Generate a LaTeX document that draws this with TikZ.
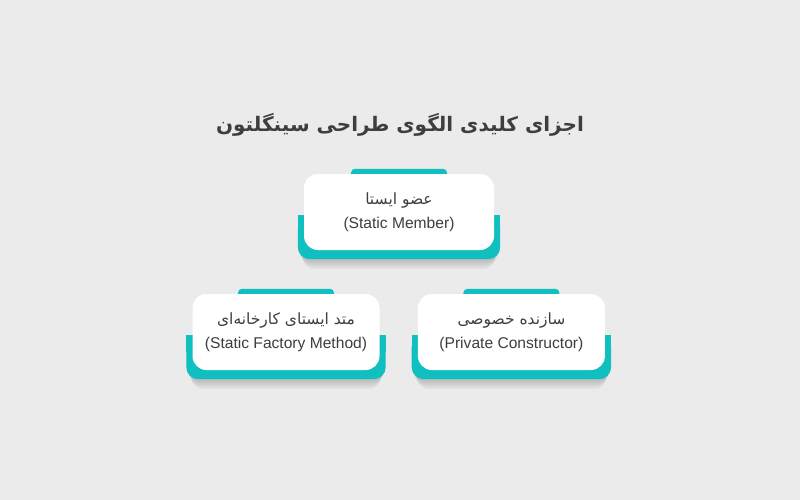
\documentclass[tikz,border=0pt]{standalone}
\usepackage{fontspec}
\setmainfont{Liberation Sans}
\newfontfamily\farsifont[Script=Arabic]{DejaVu Sans}
\TeXXeTstate=1
\usetikzlibrary{positioning, backgrounds, calc}
\definecolor{pagegray}{HTML}{EBEBEB}
\definecolor{cardteal}{HTML}{10BFC0}
\definecolor{textgray}{HTML}{3E3E3E}
\newcommand{\fatext}[1]{{\farsifont\fontsize{15.5}{24}\selectfont\beginR #1\endR}}

\begin{document}
\begin{tikzpicture}[x=1pt, y=-1pt,
  card/.style={fill=white, rounded corners=14pt, minimum width=190pt, minimum height=76pt, inner sep=0pt, align=center, text=textgray, font=\fontsize{15.6}{24.5}\selectfont},
  tealback/.style={fill=cardteal, rounded corners=12pt},
  tabbar/.style={fill=cardteal, rounded corners=4pt},
  every node/.style={text=textgray}
]
\useasboundingbox (0,0) rectangle (800,500);

% TITLE
\node[font=\fontsize{20}{24}\selectfont\bfseries] (title) at (400,125) {\fatext{\fontsize{20}{24}\selectfont اجزای کلیدی الگوی طراحی سینگلتون}};

% STATIC MEMBER
\node[card] (member) at (399,212) {\fatext{عضو ایستا}\\(Static Member)};

% STATIC FACTORY METHOD
\node[card, minimum width=187pt] (factory) at (286,332) {\fatext{متد ایستای کارخانه‌ای}\\(Static Factory Method)};

% PRIVATE CONSTRUCTOR
\node[card, minimum width=187pt, right=38pt of factory] (ctor) {\fatext{سازنده خصوصی}\\(Private Constructor)};

% Teal backs, tabs and shadows behind the cards
\begin{pgfonlayer}{background}
\fill[pagegray] (0,0) rectangle (800,500);
\foreach \n in {member, factory, ctor} {
  \foreach \i in {1,...,5}
    \fill[black, opacity=0.04, rounded corners=12pt] ($(\n.west)+(-6+\i,3)$) rectangle ($(\n.south east)+(6-\i,9+2*\i)$);
  \fill[tealback] ($(\n.west)+(-6,3)$) rectangle ($(\n.south east)+(6,9)$);
  \fill[cardteal] ($(\n.west)+(-6,3)$) rectangle ($(\n.east)+(6,20)$);
  \fill[tabbar] ($(\n.north)+(-48,-5)$) rectangle ($(\n.north)+(48,5)$);
}
\end{pgfonlayer}

\end{tikzpicture}
\end{document}
